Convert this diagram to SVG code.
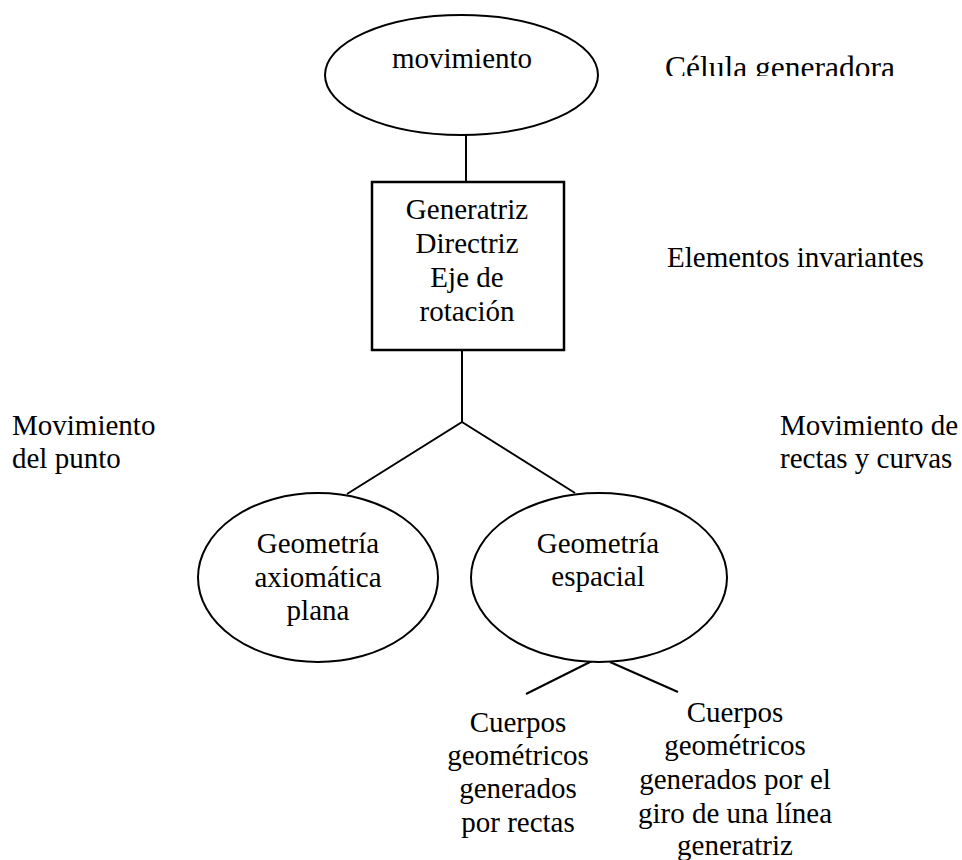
<svg xmlns="http://www.w3.org/2000/svg" width="962" height="860" viewBox="0 0 962 860">
<style>
  .shape { fill: #ffffff; stroke: #000000; stroke-width: 2; }
  .box { fill: #ffffff; stroke: #000000; stroke-width: 2.5; }
  .conn { stroke: #000000; stroke-width: 2; fill: none; }
  .t { font-family: 'Liberation Serif', 'DejaVu Serif', serif; font-size: 29px; fill: #000000; }
  .c { text-anchor: middle; }
</style>
<defs>
  <clipPath id="clipCelula"><rect x="600" y="0" width="362" height="76"/></clipPath>
</defs>
<rect width="962" height="860" fill="#ffffff"/>
<g id="connectors">
  <line class="conn" x1="466" y1="135" x2="466" y2="182"/>
  <polyline class="conn" points="462,350 462,422 347,494"/>
  <line class="conn" x1="462" y1="422" x2="575" y2="493"/>
  <line class="conn" x1="598" y1="658" x2="526" y2="694"/>
  <line class="conn" x1="610" y1="662" x2="678" y2="692"/>
</g>
<g id="node-movimiento">
  <ellipse class="shape" cx="461.5" cy="75" rx="136.5" ry="60"/>
  <text class="t c" x="462" y="68" font-family="Liberation Serif, serif">movimiento</text>
</g>
<g id="node-elementos">
  <rect class="box" x="372" y="182" width="192" height="168"/>
  <text class="t c" x="467" y="219">Generatriz</text>
  <text class="t c" x="467" y="253">Directriz</text>
  <text class="t c" x="467" y="287">Eje de</text>
  <text class="t c" x="467" y="321">rotación</text>
</g>
<g id="node-plana">
  <ellipse class="shape" cx="318" cy="577.5" rx="120" ry="84.5"/>
  <text class="t c" x="318" y="553">Geometría</text>
  <text class="t c" x="318" y="587">axiomática</text>
  <text class="t c" x="318" y="620">plana</text>
</g>
<g id="node-espacial">
  <ellipse class="shape" cx="599" cy="577.5" rx="128" ry="84.5"/>
  <text class="t c" x="598" y="553">Geometría</text>
  <text class="t c" x="598" y="586">espacial</text>
</g>
<g id="node-rectas">
  <text class="t c" x="518" y="732">Cuerpos</text>
  <text class="t c" x="518" y="765">geométricos</text>
  <text class="t c" x="518" y="798">generados</text>
  <text class="t c" x="518" y="832">por rectas</text>
</g>
<g id="node-giro">
  <text class="t c" x="735" y="722">Cuerpos</text>
  <text class="t c" x="735" y="755">geométricos</text>
  <text class="t c" x="735" y="789">generados por el</text>
  <text class="t c" x="735" y="823">giro de una línea</text>
  <text class="t c" x="735" y="855">generatriz</text>
</g>
<g id="labels">
  <text class="t" x="665" y="78" clip-path="url(#clipCelula)" style="font-size:31.5px">Célula generadora</text>
  <text class="t" x="667" y="267">Elementos invariantes</text>
  <text class="t" x="12" y="435">Movimiento</text>
  <text class="t" x="12" y="468">del punto</text>
  <text class="t" x="780" y="435">Movimiento de</text>
  <text class="t" x="780" y="468">rectas y curvas</text>
</g>
</svg>
